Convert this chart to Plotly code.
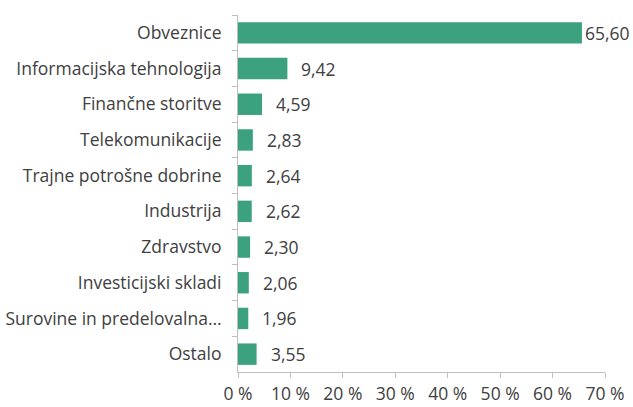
import plotly.graph_objects as go

categories = ["Obveznice", "Informacijska tehnologija", "Finančne storitve", "Telekomunikacije",
              "Trajne potrošne dobrine", "Industrija", "Zdravstvo", "Investicijski skladi",
              "Surovine in predelovalna…", "Ostalo"]
values = [65.60, 9.42, 4.59, 2.83, 2.64, 2.62, 2.30, 2.06, 1.96, 3.55]
x_ticks = [0, 10, 20, 30, 40, 50, 60, 70]
x_tick_labels = ["0 %", "10 %", "20 %", "30 %", "40 %", "50 %", "60 %", "70 %"]

labels = [f"{v:.2f}".replace(".", ",") for v in values]
font = "Open Sans"
txt_color = "#404040"
fs = 17.5

fig = go.Figure(go.Bar(
    x=values, y=categories, orientation="h",
    marker=dict(color="#3ba17f", line=dict(width=0)),
    width=0.6, hoverinfo="skip",
))

for v, c, lab in zip(values, categories, labels):
    fig.add_annotation(x=v, y=c, text=lab, showarrow=False, xanchor="left",
                       xshift=1 if v > 60 else 12,
                       font=dict(family=font, size=fs, color=txt_color))

fig.update_layout(
    width=633, height=407,
    margin=dict(l=238, r=28, t=15, b=35),
    paper_bgcolor="white", plot_bgcolor="white",
    showlegend=False,
    font=dict(family=font, size=fs, color=txt_color),
)
fig.update_xaxes(range=[0, 70], tickvals=x_ticks, ticktext=x_tick_labels,
                 showgrid=False, zeroline=False, showline=True, linecolor="#bfbfbf", linewidth=1,
                 ticks="outside", ticklen=5, tickcolor="#bfbfbf", automargin=False,
                 ticklabelstandoff=1,
                 tickfont=dict(family=font, size=fs, color=txt_color))
fig.update_yaxes(autorange="reversed", showgrid=False, zeroline=False, showline=True,
                 linecolor="#bfbfbf", linewidth=1, ticks="outside", ticklen=5, tickcolor="#bfbfbf",
                 tickson="boundaries", ticklabelstandoff=12, automargin=False,
                 tickfont=dict(family=font, size=fs, color=txt_color))

fig.write_html("out.html", config={"displayModeBar": False},
               post_script="document.body.style.margin='0';document.body.style.overflow='hidden';")
